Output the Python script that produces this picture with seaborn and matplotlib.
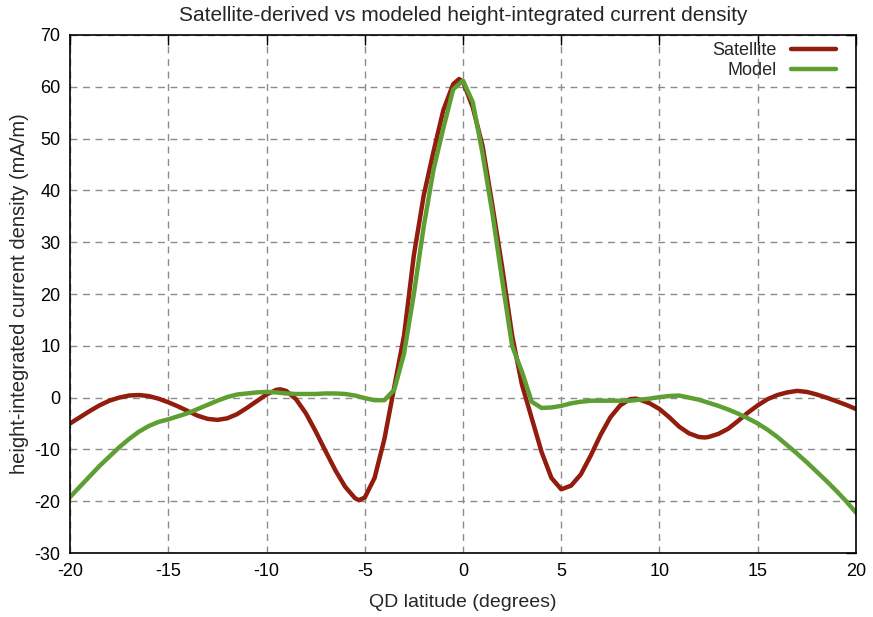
import numpy as np
import pandas as pd
import matplotlib
matplotlib.use("Agg")
import matplotlib.pyplot as plt
import seaborn as sns

# QD latitude grid (degrees) and values (mA/m)
sat_lat = [-20, -19.5, -19, -18.5, -18, -17.5, -17, -16.5, -16, -15.5, -15, -14.5, -14, -13.5,
           -13, -12.5, -12, -11.5, -11, -10.5, -10, -9.5, -9.3, -9, -8.5, -8, -7.5, -7, -6.5,
           -6, -5.5, -5.3, -5, -4.5, -4, -3.5, -3, -2.5, -2, -1.5, -1, -0.5, -0.2, 0, 0.5, 1,
           1.5, 2, 2.5, 3, 3.5, 4, 4.5, 5, 5.5, 6, 6.5, 7, 7.5, 8, 8.5, 8.8, 9, 9.5, 10, 10.5,
           11, 11.5, 12, 12.3, 12.5, 13, 13.5, 14, 14.5, 15, 15.5, 16, 16.5, 17, 17.5, 18,
           18.5, 19, 19.5, 20]
sat_val = [-5, -3.8, -2.6, -1.5, -0.6, 0.0, 0.4, 0.5, 0.3, -0.2, -0.9, -1.7, -2.6, -3.5,
           -4.1, -4.3, -4.0, -3.2, -2.0, -0.7, 0.6, 1.5, 1.6, 1.3, -0.3, -3.0, -6.5, -10.3, -14,
           -17.2, -19.4, -19.8, -19.3, -15.5, -8, 2, 12, 27.5, 39, 47.5, 55.5, 60.5, 61.5, 61, 56, 48.5,
           37, 25, 12, 2.5, -4, -10.5, -15.5, -17.7, -17, -14.8, -11.2, -7.2, -3.8, -1.5, -0.3, -0.2,
           -0.4, -1.1, -2.2, -3.8, -5.6, -6.9, -7.6, -7.7, -7.6, -7.0, -6.0, -4.5, -2.9, -1.5,
           -0.3, 0.5, 1.0, 1.3, 1.1, 0.6, 0.0, -0.7, -1.4, -2.2]

mod_lat = [-20, -19.5, -19, -18.5, -18, -17.5, -17, -16.5, -16, -15.5, -15, -14.5, -14, -13.5,
           -13, -12.5, -12, -11.5, -11, -10.5, -10, -9.5, -9, -8.5, -8, -7.5, -7, -6.5, -6,
           -5.5, -5, -4.5, -4, -3.5, -3, -2.5, -2, -1.5, -1, -0.5, 0, 0.5, 1, 1.5, 2, 2.5, 3,
           3.5, 4, 4.5, 5, 5.5, 6, 6.5, 7, 7.5, 8, 8.5, 9, 9.5, 10, 10.5, 11, 11.5, 12, 12.5,
           13, 13.5, 14, 14.5, 15, 15.5, 16, 16.5, 17, 17.5, 18, 18.5, 19, 19.5, 20]
mod_val = [-19.2, -17.2, -15.2, -13.2, -11.4, -9.6, -8.0, -6.6, -5.5, -4.7, -4.2, -3.6, -3.0,
           -2.2, -1.4, -0.6, 0.1, 0.6, 0.8, 1.0, 1.1, 1.0, 0.8, 0.7, 0.7, 0.7, 0.8, 0.8, 0.7,
           0.4, -0.1, -0.5, -0.5, 1.5, 8.5, 20, 33, 44, 52, 59.5, 61.2, 57, 47, 35.5, 22.5, 10,
           5, -0.8, -2.0, -1.9, -1.6, -1.1, -0.8, -0.6, -0.6, -0.6, -0.6, -0.6, -0.4, -0.2, 0.1,
           0.3, 0.4, 0.0, -0.4, -1.0, -1.6, -2.3, -3.1, -4.0, -5.0, -6.2, -7.6, -9.2, -10.8,
           -12.5, -14.3, -16.1, -18.0, -20.0, -22.2]

series = ["Satellite", "Model"]
colors = ["#921c0e", "#5e9f34"]

df = pd.concat([
    pd.DataFrame({"lat": sat_lat, "val": sat_val, "src": series[0]}),
    pd.DataFrame({"lat": mod_lat, "val": mod_val, "src": series[1]}),
])

sns.set_style("white")
plt.rcParams["font.family"] = ["Liberation Sans", "DejaVu Sans"]
plt.rcParams["axes.unicode_minus"] = False

fig = plt.figure(figsize=(8.73, 6.17), dpi=100)
ax = fig.add_axes([0.0802, 0.1037, 0.9003, 0.8396])

sns.lineplot(data=df, x="lat", y="val", hue="src", hue_order=series,
             palette=dict(zip(series, colors)), linewidth=3.2, sort=False, ax=ax)

ax.set_xlim(-20, 20)
ax.set_ylim(-30, 70)
ax.set_xticks(np.arange(-20, 21, 5))
ax.set_yticks(np.arange(-30, 71, 10))
ax.grid(True, color="#8c8c8c", linestyle=(0, (5, 4)), linewidth=1.0)
ax.tick_params(direction="in", length=7, width=1, top=True, right=True,
               labelsize=13, colors="black", pad=7)
for s in ax.spines.values():
    s.set_color("black")
    s.set_linewidth(1.2)

ax.set_title("Satellite-derived vs modeled height-integrated current density", fontsize=15, pad=10)
ax.set_xlabel("QD latitude (degrees)", fontsize=14, labelpad=10)
ax.set_ylabel("height-integrated current density (mA/m)", fontsize=14.5, labelpad=4)

ax.legend(loc="upper right", bbox_to_anchor=(0.982, 0.996), frameon=False,
          markerfirst=False, handlelength=2.5, fontsize=13, borderaxespad=0.0,
          labelspacing=0.15, handletextpad=0.8, borderpad=0.3)

fig.savefig("out.png", dpi=100)
